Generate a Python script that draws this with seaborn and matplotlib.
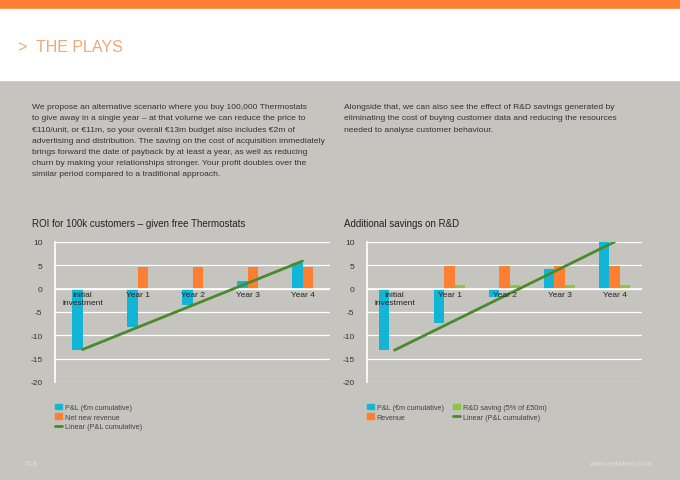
import numpy as np
import pandas as pd
import seaborn as sns
import matplotlib.pyplot as plt
from matplotlib.patches import Patch
from matplotlib.lines import Line2D

categories = ["Initial\ninvestment", "Year 1", "Year 2", "Year 3", "Year 4"]
left_pnl = [-13.2, -8.3, -3.5, 1.7, 5.5]
left_revenue = [0, 4.7, 4.7, 4.7, 4.7]
right_pnl = [-13.2, -7.3, -1.7, 4.3, 10.0]
right_revenue = [0, 4.8, 4.8, 4.8, 4.9]
right_rd = [0, 0.8, 0.8, 0.8, 0.8]
y_ticks = [10, 5, 0, -5, -10, -15, -20]

BG = "#c6c4bf"
ORANGE = "#ff7f32"
BLUE = "#13b5d6"
DGREEN = "#4a8a2f"
LGREEN = "#8cc63f"
TXT = "#333333"

sns.set_theme(style="white")
plt.rcParams['font.family'] = ['Liberation Sans', 'DejaVu Sans']
plt.rcParams['axes.unicode_minus'] = False

fig = plt.figure(figsize=(6.8, 4.81), dpi=100)
fig.patch.set_facecolor(BG)
W, H = 680, 481

def fx(px): return px / W
def fy(py): return 1 - py / H

# header bands
fig.add_artist(plt.Rectangle((0, fy(10)), 1, 10 / H, color=ORANGE, transform=fig.transFigure))
fig.add_artist(plt.Rectangle((0, fy(81)), 1, 71 / H, color="white", transform=fig.transFigure))
fig.text(fx(18), fy(47), ">  THE PLAYS", color="#f0a878", fontsize=11.5, va="center")

left_txt = ("We propose an alternative scenario where you buy 100,000 Thermostats\n"
            "to give away in a single year \u2013 at that volume we can reduce the price to\n"
            "\u20ac110/unit, or \u20ac11m, so your overall \u20ac13m budget also includes \u20ac2m of\n"
            "advertising and distribution. The saving on the cost of acquisition immediately\n"
            "brings forward the date of payback by at least a year, as well as reducing\n"
            "churn by making your relationships stronger. Your profit doubles over the\n"
            "similar period compared to a traditional approach.")
right_txt = ("Alongside that, we can also see the effect of R&D savings generated by\n"
             "eliminating the cost of buying customer data and reducing the resources\n"
             "needed to analyse customer behaviour.")
fig.text(fx(32), fy(104), left_txt, color=TXT, fontsize=6.1, va="top", linespacing=1.85)
fig.text(fx(344), fy(104), right_txt, color=TXT, fontsize=6.1, va="top", linespacing=1.85)
fig.text(fx(32), fy(224), "ROI for 100k customers \u2013 given free Thermostats", color="#222222", fontsize=7, va="center")
fig.text(fx(344), fy(224), "Additional savings on R&D", color="#222222", fontsize=7, va="center")
fig.text(fx(25), fy(465), "#16", color="#e0e0dc", fontsize=5.5, va="center")
fig.text(fx(652), fy(465), "www.netatmo.com", color="#e0e0dc", fontsize=5.5, va="center", ha="right")


def draw(ax, series, names, colors, width):
    df = pd.DataFrame({"cat": [c for c in categories for _ in series],
                       "series": [n for _ in categories for n in names],
                       "value": [s[i] for i in range(len(categories)) for s in series]})
    sns.barplot(data=df, x="cat", y="value", hue="series", hue_order=names,
                palette=colors, width=width, ax=ax, legend=False, saturation=1,
                linewidth=0, zorder=2)
    x = np.arange(len(categories))
    coef = np.polyfit(x, series[0], 1)
    ax.plot(x, np.polyval(coef, x), color=DGREEN, lw=2, zorder=5)
    ax.set_facecolor(BG)
    ax.set_ylim(-20, 10)
    ax.set_xlim(-0.5, 4.5)
    ax.set_yticks(y_ticks)
    for t in y_ticks:
        ax.axhline(t, color="white", lw=0.9, zorder=0)
    ax.axhline(0, color="white", lw=1.2, zorder=3)
    for s in ["top", "right", "bottom"]:
        ax.spines[s].set_visible(False)
    ax.spines["left"].set_color("white")
    ax.set_xticks([])
    ax.set_xlabel("")
    ax.set_ylabel("")
    ax.tick_params(axis="y", labelsize=6, colors=TXT, pad=9, length=0)
    for i, c in enumerate(categories):
        ax.text(i, -0.6, c, ha="center", va="top", fontsize=6, color="#222222", zorder=6,
                linespacing=1.1)


axL = fig.add_axes([fx(55), fy(383), fx(275), (383 - 243) / H])
draw(axL, [left_pnl, left_revenue], ["P&L", "Net new revenue"], [BLUE, ORANGE], 0.38)
axR = fig.add_axes([fx(367), fy(383), fx(275), (383 - 243) / H])
draw(axR, [right_pnl, right_revenue, right_rd], ["P&L", "Revenue", "R&D"], [BLUE, ORANGE, LGREEN], 0.55)

lkw = dict(frameon=False, fontsize=5.2, labelcolor="#444444", handlelength=1.0,
           handleheight=0.9, handletextpad=0.4, labelspacing=0.3)
hL = [Patch(color=BLUE, label="P&L (\u20acm cumulative)"),
      Patch(color=ORANGE, label="Net new revenue"),
      Line2D([], [], color=DGREEN, lw=2, label="Linear (P&L cumulative)")]
fig.legend(handles=hL, loc="upper left", bbox_to_anchor=(fx(48), fy(398)), **lkw)
hR = [Patch(color=BLUE, label="P&L (\u20acm cumulative)"),
      Patch(color=ORANGE, label="Revenue"),
      Patch(color=LGREEN, label="R&D saving (5% of \u00a350m)"),
      Line2D([], [], color=DGREEN, lw=2, label="Linear (P&L cumulative)")]
fig.legend(handles=hR, loc="upper left", bbox_to_anchor=(fx(360), fy(398)), ncol=2,
           columnspacing=1.3, **lkw)

fig.savefig("out.png", dpi=100, facecolor=BG)
